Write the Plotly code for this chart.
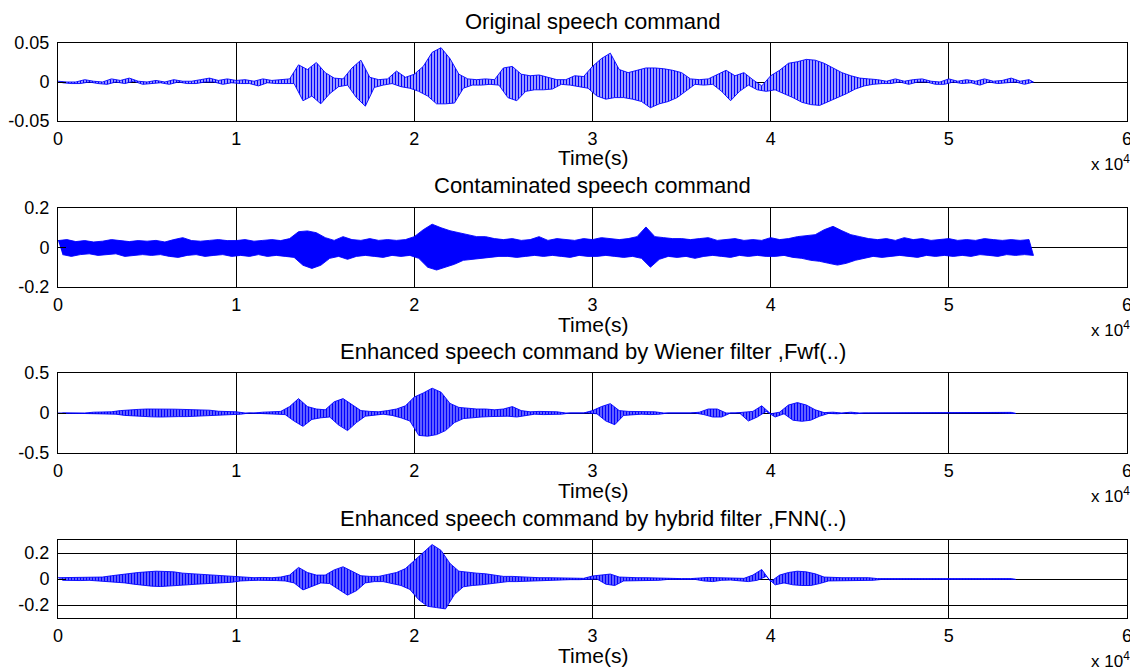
import plotly.graph_objects as go

# ---------------- data (envelope max/min per 500-sample block) ----------------
SAMPLE_STEP = 500

TITLES = [
    "Original speech command",
    "Contaminated speech command",
    "Enhanced speech command by Wiener filter ,Fwf(..)",
    "Enhanced speech command by hybrid filter ,FNN(..)",
]
X_LABEL = "Time(s)"
X_TICK_VALUES = [0, 10000, 20000, 30000, 40000, 50000, 60000]
X_TICK_LABELS = ["0", "1", "2", "3", "4", "5", "6"]

Y_RANGES = [[-0.05, 0.05], [-0.2, 0.2], [-0.5, 0.5], [-0.3, 0.3]]
Y_TICK_VALUES = [[-0.05, 0, 0.05], [-0.2, 0, 0.2], [-0.5, 0, 0.5], [-0.2, 0, 0.2]]
Y_TICK_LABELS = [["-0.05", "0", "0.05"], ["-0.2", "0", "0.2"],
                 ["-0.5", "0", "0.5"], ["-0.2", "0", "0.2"]]

ORIG_UP = [
    0.001, 0.000, 0.000, 0.003, 0.001, 0.000, 0.004, 0.002, 0.005, 0.001,
    0.000, 0.002, 0.000, 0.003, 0.001, 0.001, 0.003, 0.005, 0.002, 0.004,
    0.002, 0.003, 0.001, 0.004, 0.002, 0.003, 0.004, 0.022, 0.016, 0.025,
    0.012, 0.005, 0.004, 0.018, 0.028, 0.006, 0.003, 0.004, 0.014, 0.006,
    0.010, 0.020, 0.038, 0.044, 0.030, 0.010, 0.004, 0.003, 0.004, 0.003,
    0.018, 0.020, 0.010, 0.008, 0.009, 0.006, 0.003, 0.003, 0.008, 0.007,
    0.020, 0.030, 0.037, 0.016, 0.012, 0.015, 0.018, 0.018, 0.017, 0.015,
    0.012, 0.004, 0.003, 0.004, 0.010, 0.015, 0.008, 0.012, 0.003, -0.005,
    0.008, 0.015, 0.024, 0.026, 0.029, 0.028, 0.024, 0.018, 0.012, 0.008,
    0.005, 0.004, 0.003, 0.001, 0.004, 0.001, 0.003, 0.004, 0.001, 0.000,
    0.004, 0.001, 0.003, 0.001, 0.004, 0.001, 0.002, 0.005, 0.001, 0.003,
]
ORIG_LO = [
    -0.001, -0.002, -0.002, 0.000, -0.002, -0.003, 0.000, -0.002, 0.001, -0.003,
    -0.002, -0.001, -0.003, 0.000, -0.002, -0.002, 0.000, 0.000, -0.003, -0.001,
    -0.002, -0.002, -0.005, -0.001, -0.002, -0.002, -0.002, -0.024, -0.018, -0.028,
    -0.015, -0.006, -0.004, -0.020, -0.031, -0.007, -0.004, -0.002, -0.006, -0.008,
    -0.012, -0.018, -0.028, -0.028, -0.027, -0.008, -0.004, -0.004, -0.003, -0.004,
    -0.020, -0.024, -0.012, -0.010, -0.010, -0.009, -0.003, -0.004, -0.006, -0.008,
    -0.018, -0.022, -0.020, -0.020, -0.022, -0.025, -0.033, -0.028, -0.025, -0.020,
    -0.012, -0.003, -0.004, -0.003, -0.012, -0.024, -0.012, -0.004, -0.010, -0.012,
    -0.010, -0.015, -0.020, -0.026, -0.029, -0.030, -0.025, -0.020, -0.015, -0.009,
    -0.005, -0.003, -0.002, -0.002, 0.000, -0.003, 0.000, 0.000, -0.003, -0.003,
    0.000, -0.002, -0.001, -0.004, 0.000, -0.002, -0.001, 0.000, -0.003, 0.000,
]

NOISY_UP = [
    0.035, 0.040, 0.030, 0.035, 0.028, 0.032, 0.040, 0.035, 0.030, 0.035,
    0.032, 0.036, 0.028, 0.040, 0.050, 0.035, 0.032, 0.036, 0.040, 0.035,
    0.035, 0.040, 0.032, 0.036, 0.040, 0.035, 0.045, 0.080, 0.084, 0.075,
    0.050, 0.036, 0.055, 0.040, 0.036, 0.045, 0.036, 0.040, 0.036, 0.040,
    0.055, 0.090, 0.118, 0.100, 0.085, 0.075, 0.065, 0.055, 0.055, 0.045,
    0.040, 0.045, 0.036, 0.040, 0.055, 0.036, 0.045, 0.040, 0.036, 0.045,
    0.040, 0.050, 0.045, 0.040, 0.045, 0.055, 0.104, 0.055, 0.050, 0.045,
    0.045, 0.040, 0.045, 0.050, 0.036, 0.040, 0.045, 0.036, 0.040, 0.036,
    0.050, 0.040, 0.045, 0.055, 0.060, 0.065, 0.090, 0.107, 0.085, 0.065,
    0.055, 0.045, 0.040, 0.045, 0.036, 0.050, 0.040, 0.045, 0.036, 0.040,
    0.045, 0.036, 0.040, 0.036, 0.045, 0.040, 0.036, 0.040, 0.036, 0.040,
]
NOISY_LO = [
    -0.036, -0.045, -0.036, -0.032, -0.040, -0.036, -0.032, -0.045, -0.040, -0.036,
    -0.040, -0.036, -0.045, -0.050, -0.040, -0.036, -0.045, -0.040, -0.036, -0.045,
    -0.040, -0.045, -0.036, -0.045, -0.040, -0.045, -0.050, -0.090, -0.106, -0.090,
    -0.055, -0.045, -0.060, -0.045, -0.040, -0.045, -0.050, -0.040, -0.045, -0.040,
    -0.055, -0.100, -0.114, -0.100, -0.085, -0.065, -0.060, -0.055, -0.050, -0.045,
    -0.045, -0.050, -0.045, -0.040, -0.045, -0.040, -0.045, -0.050, -0.040, -0.045,
    -0.045, -0.040, -0.045, -0.050, -0.045, -0.055, -0.100, -0.060, -0.045, -0.050,
    -0.045, -0.055, -0.045, -0.040, -0.045, -0.050, -0.040, -0.045, -0.040, -0.045,
    -0.045, -0.040, -0.050, -0.055, -0.065, -0.070, -0.080, -0.089, -0.080, -0.065,
    -0.055, -0.045, -0.050, -0.045, -0.040, -0.045, -0.050, -0.040, -0.045, -0.040,
    -0.045, -0.040, -0.045, -0.036, -0.040, -0.045, -0.036, -0.040, -0.036, -0.040,
]

WIENER_UP = [
    0.0, 0.0, 0.0, 0.0, 0.010, 0.012, 0.015, 0.030, 0.040, 0.045,
    0.050, 0.052, 0.050, 0.048, 0.045, 0.042, 0.040, 0.035, 0.022, 0.020,
    0.015, 0.0, 0.0, 0.010, 0.015, 0.020, 0.080, 0.180, 0.080, 0.050,
    0.040, 0.140, 0.180, 0.100, 0.030, 0.020, 0.015, 0.030, 0.050, 0.090,
    0.200, 0.250, 0.310, 0.260, 0.120, 0.070, 0.060, 0.050, 0.050, 0.040,
    0.050, 0.080, 0.030, 0.015, 0.020, 0.020, 0.015, 0.0, 0.0, 0.0,
    0.030, 0.080, 0.117, 0.030, 0.020, 0.018, 0.020, 0.015, 0.0, 0.0,
    0.0, 0.0, 0.010, 0.050, 0.050, 0.0, 0.0, 0.010, 0.020, 0.090,
    -0.010, 0.010, 0.100, 0.130, 0.100, 0.040, 0.005, 0.010, 0.0, 0.010,
    0.0, 0.0, 0.0, 0.0, 0.0, 0.0, 0.0, 0.0, 0.0, 0.0,
    0.0, 0.0, 0.0, 0.0, 0.0, 0.0, 0.0, 0.008,
]
WIENER_LO = [
    0.0, 0.0, 0.0, 0.0, -0.010, -0.012, -0.015, -0.030, -0.040, -0.045,
    -0.048, -0.050, -0.052, -0.045, -0.045, -0.040, -0.040, -0.035, -0.022, -0.020,
    -0.015, 0.0, 0.0, -0.010, -0.015, -0.020, -0.100, -0.167, -0.080, -0.060,
    -0.050, -0.150, -0.220, -0.120, -0.040, -0.025, -0.015, -0.030, -0.060, -0.100,
    -0.280, -0.290, -0.270, -0.220, -0.120, -0.070, -0.060, -0.050, -0.045, -0.040,
    -0.040, -0.050, -0.030, -0.015, -0.020, -0.020, -0.015, 0.0, 0.0, 0.0,
    -0.010, -0.100, -0.146, -0.030, -0.020, -0.015, -0.020, -0.015, 0.0, 0.0,
    0.0, 0.0, -0.020, -0.050, -0.050, 0.0, 0.0, -0.100, -0.050, 0.020,
    -0.050, -0.010, -0.090, -0.104, -0.090, -0.040, -0.005, -0.010, 0.0, -0.010,
    0.0, 0.0, 0.0, 0.0, 0.0, 0.0, 0.0, 0.0, 0.0, 0.0,
    0.0, 0.0, 0.0, 0.0, 0.0, 0.0, 0.0, -0.005,
]

HYBRID_UP = [
    0.010, 0.012, 0.010, 0.012, 0.013, 0.015, 0.025, 0.035, 0.045, 0.050,
    0.055, 0.060, 0.058, 0.055, 0.045, 0.040, 0.035, 0.030, 0.028, 0.025,
    0.018, 0.012, 0.010, 0.012, 0.010, 0.015, 0.030, 0.089, 0.050, 0.030,
    0.030, 0.070, 0.094, 0.060, 0.025, 0.020, 0.020, 0.035, 0.050, 0.080,
    0.140, 0.200, 0.265, 0.220, 0.120, 0.060, 0.050, 0.045, 0.040, 0.030,
    0.020, 0.020, 0.015, 0.012, 0.010, 0.010, 0.008, 0.005, 0.005, 0.005,
    0.023, 0.030, 0.038, 0.015, 0.010, 0.010, 0.010, 0.008, 0.003, 0.003,
    0.003, 0.003, 0.010, 0.012, 0.010, 0.008, 0.010, 0.005, 0.030, 0.073,
    -0.020, 0.030, 0.050, 0.060, 0.055, 0.040, 0.015, 0.010, 0.010, 0.010,
    0.010, 0.010, 0.003, 0.003, 0.003, 0.003, 0.003, 0.003, 0.003, 0.003,
    0.003, 0.003, 0.003, 0.003, 0.003, 0.003, 0.003, 0.003,
]
HYBRID_LO = [
    -0.010, -0.010, -0.012, -0.010, -0.012, -0.015, -0.025, -0.030, -0.040, -0.050,
    -0.055, -0.058, -0.055, -0.050, -0.045, -0.040, -0.035, -0.030, -0.028, -0.025,
    -0.015, -0.012, -0.010, -0.010, -0.012, -0.015, -0.030, -0.084, -0.060, -0.030,
    -0.035, -0.080, -0.124, -0.090, -0.030, -0.020, -0.020, -0.035, -0.050, -0.080,
    -0.160, -0.210, -0.220, -0.230, -0.120, -0.060, -0.050, -0.045, -0.040, -0.030,
    -0.020, -0.020, -0.015, -0.012, -0.010, -0.010, -0.008, -0.005, -0.005, -0.005,
    0.000, -0.040, -0.050, -0.015, -0.010, -0.012, -0.010, -0.010, -0.003, -0.003,
    -0.003, -0.003, -0.015, -0.020, -0.010, -0.008, -0.012, -0.020, -0.010, 0.020,
    -0.045, -0.030, -0.045, -0.050, -0.050, -0.035, -0.015, -0.010, -0.010, -0.010,
    -0.010, -0.010, -0.003, -0.003, -0.003, -0.003, -0.003, -0.003, -0.003, -0.003,
    -0.003, -0.003, -0.003, -0.003, -0.003, -0.003, -0.003, -0.003,
]

SIGNALS = [(ORIG_UP, ORIG_LO), (NOISY_UP, NOISY_LO),
           (WIENER_UP, WIENER_LO), (HYBRID_UP, HYBRID_LO)]
# texture of the dense waveform (vertical strokes); None = solid
PATTERN_SOLIDITY = [0.6, None, 0.75, 0.75]

# ---------------- layout (pixel geometry, page coordinates) ----------------
PAGE_W, PAGE_H = 1138, 671
BODY_MARGIN = 8                      # default HTML body margin
W, H = PAGE_W - BODY_MARGIN, PAGE_H - BODY_MARGIN
BOX_L, BOX_R = 58, 1127
TOPS = [43, 208, 373, 540]
BOTTOMS = [121, 287, 453, 618]
BLUE = "#0000ff"
FONT = "Liberation Sans, Arial, Helvetica, sans-serif"


def px_x(p):
    return (p - BODY_MARGIN) / W


def px_y(p):
    return 1 - (p - BODY_MARGIN) / H


fig = go.Figure()
annotations = []
xdom = [px_x(BOX_L), px_x(BOX_R)]
cx = px_x((BOX_L + BOX_R) / 2)

for k, (up, lo) in enumerate(SIGNALS):
    n = k + 1
    xa = "x" if n == 1 else f"x{n}"
    ya = "y" if n == 1 else f"y{n}"
    x_up = [i * SAMPLE_STEP for i in range(len(up))]
    x_lo = [i * SAMPLE_STEP + SAMPLE_STEP / 2 for i in range(len(lo))]
    band = dict(x=x_up + x_lo[::-1], y=list(up) + list(lo)[::-1],
                fill="toself", mode="lines",
                line=dict(width=0.9, color=BLUE), xaxis=xa, yaxis=ya,
                hoverinfo="skip", showlegend=False)
    if PATTERN_SOLIDITY[k] is None:
        band["fillcolor"] = BLUE
    else:
        band["fillcolor"] = "white"
        band["fillpattern"] = dict(shape="|", size=3, solidity=PATTERN_SOLIDITY[k],
                                   fgcolor=BLUE, bgcolor="white",
                                   fillmode="replace")
    fig.add_trace(go.Scatter(**band))

    ydom = [px_y(BOTTOMS[k]), px_y(TOPS[k])]
    common = dict(showline=True, linecolor="black", linewidth=1, mirror="ticks",
                  ticks="inside", ticklen=8, tickcolor="black", tickwidth=1,
                  showgrid=True, gridcolor="black", gridwidth=1, zeroline=False,
                  automargin=False,
                  tickfont=dict(family=FONT, size=18, color="black"))
    fig.layout[f"xaxis{n}" if n > 1 else "xaxis"] = dict(
        domain=xdom, range=[0, 60000], anchor=ya,
        tickmode="array", tickvals=X_TICK_VALUES, ticktext=X_TICK_LABELS,
        ticklabelstandoff=1, **common)
    fig.layout[f"yaxis{n}" if n > 1 else "yaxis"] = dict(
        domain=ydom, range=Y_RANGES[k], anchor=xa,
        tickmode="array", tickvals=Y_TICK_VALUES[k], ticktext=Y_TICK_LABELS[k],
        ticklabelstandoff=4, **common)

    annotations.append(dict(text=TITLES[k], x=cx, y=px_y(TOPS[k] - 22),
                            xref="paper", yref="paper", showarrow=False,
                            xanchor="center", yanchor="middle",
                            font=dict(family=FONT, size=22, color="black")))
    annotations.append(dict(text=X_LABEL, x=cx, y=px_y(BOTTOMS[k] + 37),
                            xref="paper", yref="paper", showarrow=False,
                            xanchor="center", yanchor="middle",
                            font=dict(family=FONT, size=21, color="black")))
    annotations.append(dict(text="x 10<sup>4</sup>", x=px_x(1132),
                            y=px_y(BOTTOMS[k] + 42),
                            xref="paper", yref="paper", showarrow=False,
                            xanchor="right", yanchor="middle",
                            font=dict(family=FONT, size=17, color="black")))

fig.update_layout(template="none", width=W, height=H, autosize=False,
                  margin=dict(l=0, r=0, t=0, b=0, pad=0),
                  paper_bgcolor="white", plot_bgcolor="white",
                  font=dict(family=FONT, color="black"),
                  annotations=annotations, showlegend=False)

fig.write_html("out.html")
